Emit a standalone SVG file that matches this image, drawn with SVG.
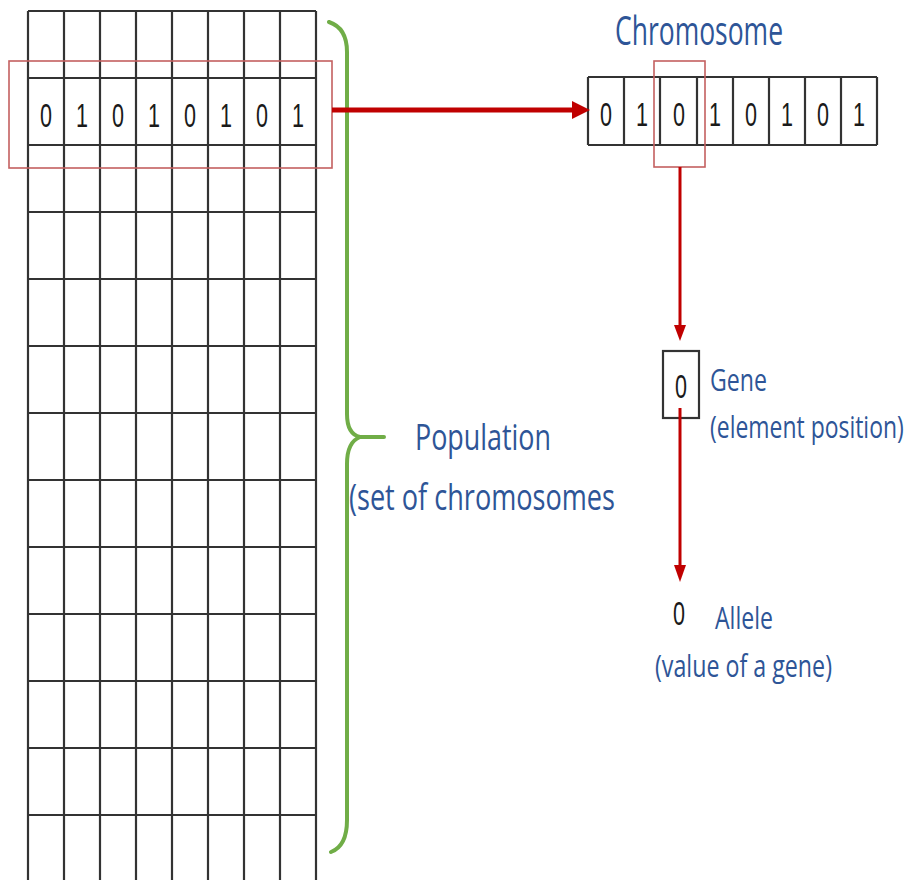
<svg xmlns="http://www.w3.org/2000/svg" width="914" height="880" viewBox="0 0 914 880">
  <defs>
    <style>
      .grid { stroke: #333333; stroke-width: 2.2; fill: none; }
      .digit { font-family: "Liberation Sans", Arial, sans-serif; font-size: 33px; fill: #1a1a1a; text-anchor: middle; }
      .label { font-family: "Open Sans", "Liberation Sans", sans-serif; fill: #2e5597; }
      .sel { fill: none; stroke: #c46060; stroke-width: 1.6; }
      .arrow { stroke: #c00000; fill: none; }
      .head { fill: #c00000; }
      .brace { stroke: #70ad47; stroke-width: 4; fill: none; stroke-linecap: round; }
    </style>
  </defs>
  <rect width="914" height="880" fill="#ffffff"/>

  <!-- Population grid: 8 columns, rows of 67px -->
  <g id="population-grid">
    <path class="grid" d="M28,11 V880 M64,11 V880 M100,11 V880 M136,11 V880 M172,11 V880 M208,11 V880 M244,11 V880 M280,11 V880 M316,11 V880"/>
    <path class="grid" d="M28,11 H316 M28,78 H316 M28,145 H316 M28,212 H316 M28,279 H316 M28,346 H316 M28,413 H316 M28,480 H316 M28,547 H316 M28,614 H316 M28,681 H316 M28,748 H316 M28,815 H316"/>
    <g>
      <text class="digit" x="46" y="127" textLength="12" lengthAdjust="spacingAndGlyphs">0</text>
      <text class="digit" x="82" y="127" textLength="12" lengthAdjust="spacingAndGlyphs">1</text>
      <text class="digit" x="118" y="127" textLength="12" lengthAdjust="spacingAndGlyphs">0</text>
      <text class="digit" x="154" y="127" textLength="12" lengthAdjust="spacingAndGlyphs">1</text>
      <text class="digit" x="190" y="127" textLength="12" lengthAdjust="spacingAndGlyphs">0</text>
      <text class="digit" x="226" y="127" textLength="12" lengthAdjust="spacingAndGlyphs">1</text>
      <text class="digit" x="262" y="127" textLength="12" lengthAdjust="spacingAndGlyphs">0</text>
      <text class="digit" x="298" y="127" textLength="12" lengthAdjust="spacingAndGlyphs">1</text>
    </g>
    <rect class="sel" x="9" y="61" width="323" height="107"/>
  </g>

  <!-- Chromosome row -->
  <g id="chromosome">
    <text class="label" x="615" y="45" font-size="40" textLength="168" lengthAdjust="spacingAndGlyphs">Chromosome</text>
    <path class="grid" d="M588,77 H877 M588,145 H877 M588,77 V145 M624,77 V145 M660,77 V145 M697,77 V145 M733,77 V145 M769,77 V145 M805,77 V145 M841,77 V145 M877,77 V145"/>
    <text class="digit" x="606" y="126" textLength="12" lengthAdjust="spacingAndGlyphs">0</text>
    <text class="digit" x="642" y="126" textLength="12" lengthAdjust="spacingAndGlyphs">1</text>
    <text class="digit" x="679" y="126" textLength="12" lengthAdjust="spacingAndGlyphs">0</text>
    <text class="digit" x="715" y="126" textLength="12" lengthAdjust="spacingAndGlyphs">1</text>
    <text class="digit" x="751" y="126" textLength="12" lengthAdjust="spacingAndGlyphs">0</text>
    <text class="digit" x="787" y="126" textLength="12" lengthAdjust="spacingAndGlyphs">1</text>
    <text class="digit" x="823" y="126" textLength="12" lengthAdjust="spacingAndGlyphs">0</text>
    <text class="digit" x="859" y="126" textLength="12" lengthAdjust="spacingAndGlyphs">1</text>
    <rect class="sel" x="654" y="61" width="51" height="106"/>
  </g>

  <!-- Gene -->
  <g id="gene">
    <rect x="663" y="351" width="36" height="67" fill="#ffffff" stroke="#333333" stroke-width="2.2"/>
    <text class="digit" x="681" y="398" textLength="12" lengthAdjust="spacingAndGlyphs">0</text>
    <text class="label" x="710" y="391" font-size="31" textLength="57" lengthAdjust="spacingAndGlyphs">Gene</text>
    <g transform="translate(710,438) scale(0.68,1)">
      <text class="label" x="0" y="0" font-size="31" textLength="285" lengthAdjust="spacingAndGlyphs">(element position)</text>
    </g>
  </g>

  <!-- Allele -->
  <g id="allele">
    <text class="digit" x="679" y="625" textLength="12" lengthAdjust="spacingAndGlyphs">0</text>
    <text class="label" x="715" y="629" font-size="31" textLength="58" lengthAdjust="spacingAndGlyphs">Allele</text>
    <text class="label" x="655" y="677" font-size="31" textLength="177" lengthAdjust="spacingAndGlyphs">(value of a gene)</text>
  </g>

  <!-- Population brace and label -->
  <g id="population">
    <path class="brace" d="M329,22 Q347,28 347,52 L347,414 Q347,434 360,437 L384,437"/>
    <path class="brace" d="M360,437 Q347,442 347,464 L347,820 Q347,846 331,852"/>
    <text class="label" x="415" y="450" font-size="37" textLength="136" lengthAdjust="spacingAndGlyphs">Population</text>
    <text class="label" x="349" y="510" font-size="37" textLength="266" lengthAdjust="spacingAndGlyphs">(set of chromosomes</text>
  </g>

  <!-- Connectors -->
  <g id="connectors">
    <line class="arrow" x1="332" y1="110" x2="576" y2="110" stroke-width="5"/>
    <polygon class="head" points="590,110 572,101 572,119"/>
    <line class="arrow" x1="680" y1="167" x2="680" y2="328" stroke-width="3"/>
    <polygon class="head" points="680,341 674,325 686,325"/>
    <line class="arrow" x1="680" y1="408" x2="680" y2="568" stroke-width="3"/>
    <polygon class="head" points="680,582 674,565 686,565"/>
  </g>
</svg>
